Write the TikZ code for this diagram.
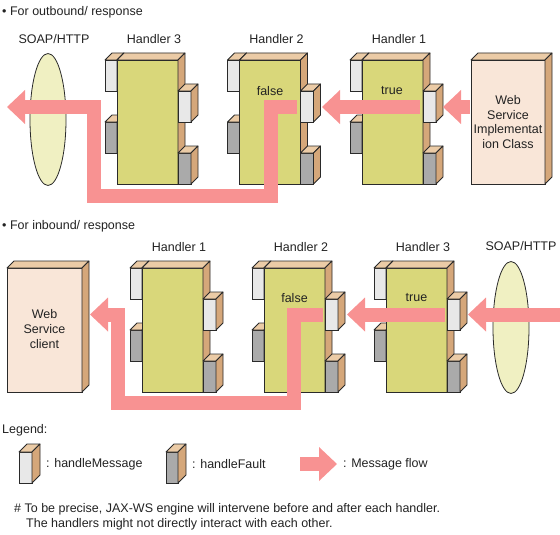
\documentclass[tikz,border=0pt]{standalone}
\usepackage{fontspec}
\setmainfont{Liberation Sans}
\usetikzlibrary{arrows.meta,shapes.geometric}
\definecolor{hfront}{HTML}{D9D77A}
\definecolor{htop}{HTML}{EBCBA6}
\definecolor{hside}{HTML}{D5A77A}
\definecolor{tabw}{HTML}{E8E8E8}
\definecolor{tabg}{HTML}{AAAAAA}
\definecolor{wsfront}{HTML}{F9E6D8}
\definecolor{soapfill}{HTML}{F0F0C2}
\definecolor{flowc}{HTML}{F89292}
\definecolor{linec}{HTML}{2A2A2A}
\definecolor{txt}{HTML}{222222}
\tikzset{
  edge/.style={draw=linec, line width=0.8pt, line join=round},
  cubefront/.style={draw=linec, line width=0.8pt, anchor=north west, inner sep=0pt, outer sep=0pt},
  lbl/.style={font=\fontsize{12.5}{14.7}\selectfont, text=txt, inner sep=0pt, align=center},
  lbll/.style={lbl, anchor=west, align=left},
  flow/.style={draw=flowc, line width=14pt, line join=miter,
    -{Triangle[length=18pt,width=34pt,line width=0pt]}},
  soap/.style={ellipse, draw=linec, line width=0.8pt, fill=soapfill, inner sep=0pt,
    minimum width=36pt, minimum height=132pt},
}
% name, x, y, w, h, depth, front, top, side
\newcommand{\cuboid}[9]{%
  \node[cubefront, fill=#7, minimum width=#4pt, minimum height=#5pt] (#1) at (#2,#3) {};
  \filldraw[edge, fill=#8] (#1.north west) -- ++(#6,-#6) -- ++(#4,0) -- (#1.north east) -- cycle;
  \filldraw[edge, fill=#9] (#1.north east) -- ++(#6,-#6) -- ++(0,#5) -- (#1.south east) -- cycle;
}
% name, xL, yT, label
\newcommand{\handler}[4]{%
  \cuboid{#1lw}{#2-12}{#3}{12}{31}{7}{tabw}{htop}{hside}
  \cuboid{#1lg}{#2-12}{#3+62}{12}{31}{7}{tabg}{htop}{hside}
  \cuboid{#1}{#2}{#3}{61}{124}{7}{hfront}{htop}{hside}
  \cuboid{#1rw}{#2+61}{#3+31}{13}{31}{7}{tabw}{htop}{hside}
  \cuboid{#1rg}{#2+61}{#3+93}{13}{31}{7}{tabg}{htop}{hside}
  \node[lbl] (#1name) at (#2+37,#3-21) {#4};
}
\begin{document}
\begin{tikzpicture}[x=1pt,y=-1pt]
\useasboundingbox (0,0) rectangle (560,535);

% ---------- outbound ----------
\node[lbll] (titleout) at (2,12) {\textbullet\ For outbound/ response};
\node[soap] (soapt) at (48,119.5) {};
\node[lbl] (soaptl) at (54,39) {SOAP/HTTP};
\handler{ha}{117}{60}{Handler 3}
\handler{hb}{239.5}{60}{Handler 2}
\handler{hc}{362}{60}{Handler 1}
\cuboid{wsimpl}{471}{60}{74}{124}{7}{wsfront}{htop}{hside}
\node[lbl] (wsimpltext) at (508,122) {Web\\Service\\Implementat\\ion Class};
\node[lbl] (falset) at (270,91) {false};
\node[lbl] (truet) at (392,91) {true};

\coordinate (a1s) at (470,107); \coordinate (a1e) at (443,107);
\coordinate (a2s) at (420,107); \coordinate (a2e) at (322,107);
\coordinate (a3s) at (297,107); \coordinate (a3b) at (271,195.5);
\coordinate (a3c) at (93.5,195.5); \coordinate (a3e) at (7,107);
\draw[flow] (a1s) -- (a1e);
\draw[flow] (a2s) -- (a2e);
\draw[flow] (a3s) -| (a3b) -- (a3c) |- (a3e);

% ---------- inbound ----------
\node[lbll] (titlein) at (2,226) {\textbullet\ For inbound/ response};
\cuboid{wsclient}{7}{268}{75}{124}{7}{wsfront}{htop}{hside}
\node[lbl] (wsclienttext) at (44.5,329) {Web\\Service\\client};
\handler{hd}{142}{268}{Handler 1}
\handler{he}{264}{268}{Handler 2}
\handler{hf}{386}{268}{Handler 3}
\node[soap] (soapb) at (511,327.5) {};
\node[lbl] (soapbl) at (521,246) {SOAP/HTTP};
\node[lbl] (falseb) at (294.5,298) {false};
\node[lbl] (trueb) at (416.5,298) {true};

\coordinate (b1s) at (560,314.5); \coordinate (b1e) at (468,314.5);
\coordinate (b2s) at (445,314.5); \coordinate (b2e) at (347,314.5);
\coordinate (b3s) at (323,314.5); \coordinate (b3b) at (294,403);
\coordinate (b3c) at (117.5,403); \coordinate (b3e) at (90,314.5);
\draw[flow] (b1s) -- (b1e);
\draw[flow] (b2s) -- (b2e);
\draw[flow] (b3s) -| (b3b) -- (b3c) |- (b3e);

% ---------- legend ----------
\node[lbll] (legend) at (2,430) {Legend:};
\cuboid{legw}{19}{452}{13}{31}{8}{tabw}{htop}{hside}
\node[lbll] (legwt) at (46,464) {: handleMessage};
\cuboid{legg}{166}{452}{12}{31}{8}{tabg}{htop}{hside}
\node[lbll] (leggt) at (192,464) {: handleFault};
\coordinate (ls) at (300,464); \coordinate (le) at (337,464);
\draw[flow] (ls) -- (le);
\node[lbll] (legft) at (343,464) {: Message flow};

\node[lbll] (note1) at (14,509) {\# To be precise, JAX-WS engine will intervene before and after each handler.};
\node[lbll] (note2) at (26,524) {The handlers might not directly interact with each other.};
\end{tikzpicture}
\end{document}
